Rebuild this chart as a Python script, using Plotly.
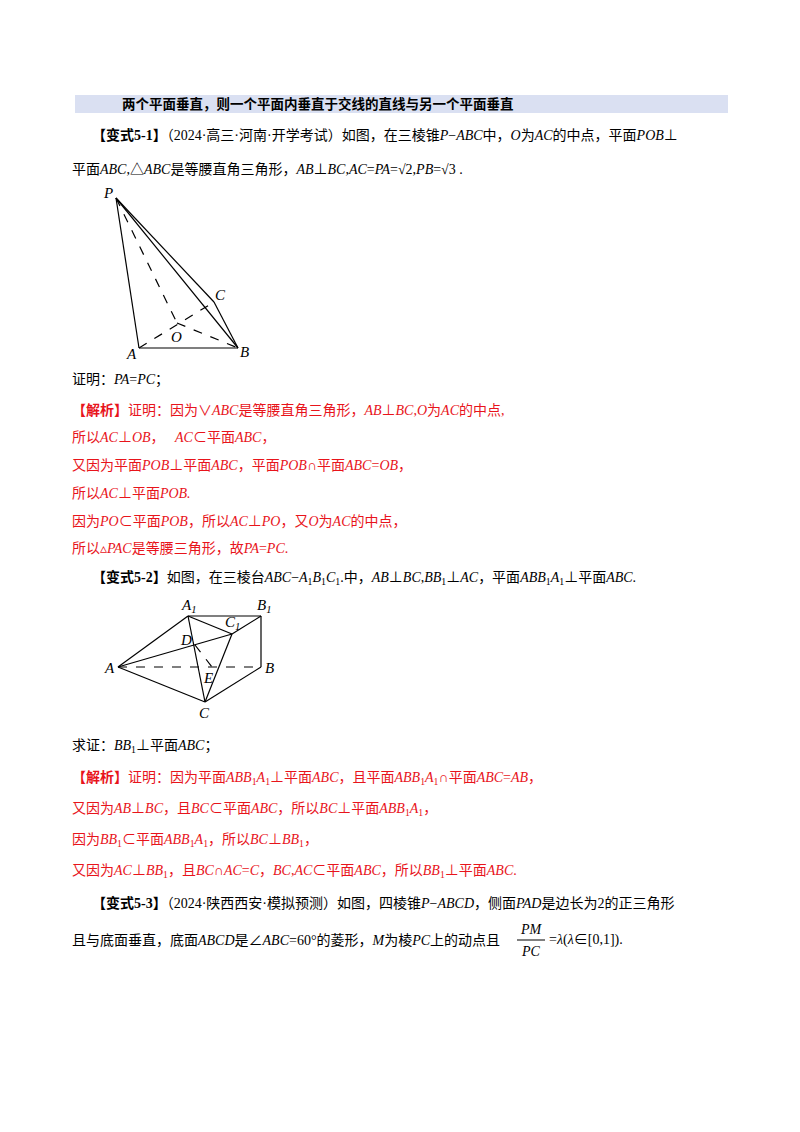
import plotly.graph_objects as go

# ---- data ----
fig1_pts = {"P": (116, 198), "A": (139, 348), "B": (238, 348), "C": (214, 302), "O": (177, 323)}
fig1_solid = [("P", "A"), ("P", "B"), ("P", "C"), ("A", "B"), ("C", "B")]
fig1_dash = [("P", "O"), ("A", "C"), ("O", "B")]
fig1_labels = {"P": (108, 193), "A": (131, 354), "B": (244, 352), "C": (220, 295), "O": (176, 337)}

fig2_pts = {"A1": (188, 616), "B1": (261, 616), "C1": (232, 634), "A": (118, 667), "B": (261, 667),
            "C": (205, 702), "D": (195, 645), "E": (212, 667)}
fig2_solid = [("A", "A1"), ("A1", "B1"), ("B1", "B"), ("B", "C"), ("A", "C"), ("A", "C1"),
              ("A1", "C"), ("A1", "C1"), ("C1", "B1"), ("C1", "C")]
fig2_dash = [("A", "B"), ("D", "E")]
fig2_labels = {"A1": (188, 606), "B1": (264, 606), "C1": (232, 623), "A": (109, 668), "B": (269, 668),
               "C": (204, 713), "D": (186, 640), "E": (208, 678)}
label_text = {"A1": "A<sub>1</sub>", "B1": "B<sub>1</sub>", "C1": "C<sub>1</sub>"}

header = "两个平面垂直，则一个平面内垂直于交线的直线与另一个平面垂直"
RED = "#e8141b"
text_lines = [
    (135, 90, "black", "<b>【变式5-1】</b>（2024·高三·河南·开学考试）如图，在三棱锥<i>P</i>−<i>ABC</i>中，<i>O</i>为<i>AC</i>的中点，平面<i>POB</i>⊥"),
    (169, 70, "black", "平面<i>ABC</i>,△<i>ABC</i>是等腰直角三角形，<i>AB</i>⊥<i>BC</i>,<i>AC</i>=<i>PA</i>=√2,<i>PB</i>=√3 ."),
    (380, 70, "black", "证明：<i>PA</i>=<i>PC</i>；"),
    (410, 70, RED, "<b>【解析】</b>证明：因为∨<i>ABC</i>是等腰直角三角形，<i>AB</i>⊥<i>BC</i>,<i>O</i>为<i>AC</i>的中点,"),
    (437, 70, RED, "所以<i>AC</i>⊥<i>OB</i>，   <i>AC</i>⊂平面<i>ABC</i>，"),
    (465, 70, RED, "又因为平面<i>POB</i>⊥平面<i>ABC</i>，平面<i>POB</i>∩平面<i>ABC</i>=<i>OB</i>，"),
    (493, 70, RED, "所以<i>AC</i>⊥平面<i>POB.</i>"),
    (521, 70, RED, "因为<i>PO</i>⊂平面<i>POB</i>，所以<i>AC</i>⊥<i>PO</i>，又<i>O</i>为<i>AC</i>的中点，"),
    (548, 70, RED, "所以▵<i>PAC</i>是等腰三角形，故<i>PA</i>=<i>PC</i>."),
    (578, 90, "black", "<b>【变式5-2】</b>如图，在三棱台<i>ABC</i>−<i>A</i><sub>1</sub><i>B</i><sub>1</sub><i>C</i><sub>1</sub>.中，<i>AB</i>⊥<i>BC</i>,<i>BB</i><sub>1</sub>⊥<i>AC</i>，平面<i>ABB</i><sub>1</sub><i>A</i><sub>1</sub>⊥平面<i>ABC</i>."),
    (746, 70, "black", "求证：<i>BB</i><sub>1</sub>⊥平面<i>ABC</i>；"),
    (778, 70, RED, "<b>【解析】</b>证明：因为平面<i>ABB</i><sub>1</sub><i>A</i><sub>1</sub>⊥平面<i>ABC</i>，且平面<i>ABB</i><sub>1</sub><i>A</i><sub>1</sub>∩平面<i>ABC</i>=<i>AB</i>，"),
    (809, 70, RED, "又因为<i>AB</i>⊥<i>BC</i>，且<i>BC</i>⊂平面<i>ABC</i>，所以<i>BC</i>⊥平面<i>ABB</i><sub>1</sub><i>A</i><sub>1</sub>，"),
    (840, 70, RED, "因为<i>BB</i><sub>1</sub>⊂平面<i>ABB</i><sub>1</sub><i>A</i><sub>1</sub>，所以<i>BC</i>⊥<i>BB</i><sub>1</sub>，"),
    (871, 70, RED, "又因为<i>AC</i>⊥<i>BB</i><sub>1</sub>，且<i>BC</i>∩<i>AC</i>=<i>C</i>，<i>BC</i>,<i>AC</i>⊂平面<i>ABC</i>，所以<i>BB</i><sub>1</sub>⊥平面<i>ABC</i>."),
    (903, 90, "black", "<b>【变式5-3】</b>（2024·陕西西安·模拟预测）如图，四棱锥<i>P</i>−<i>ABCD</i>，侧面<i>PAD</i>是边长为2的正三角形"),
    (940, 70, "black", "且与底面垂直，底面<i>ABCD</i>是∠<i>ABC</i>=60°的菱形，<i>M</i>为棱<i>PC</i>上的动点且"),
]

FONT = "Liberation Serif, Noto Sans CJK SC"
fig = go.Figure()

def add_segments(pts, segs, dash):
    xs, ys = [], []
    for a, b in segs:
        xs += [pts[a][0], pts[b][0], None]
        ys += [pts[a][1], pts[b][1], None]
    fig.add_trace(go.Scatter(x=xs, y=ys, mode="lines", hoverinfo="skip",
                             line=dict(color="black", width=1.2, dash=dash)))

add_segments(fig1_pts, fig1_solid, "solid")
add_segments(fig1_pts, fig1_dash, "dash")
add_segments(fig2_pts, fig2_solid, "solid")
add_segments(fig2_pts, fig2_dash, "dash")

for k, (x, y) in list(fig1_labels.items()) + list(fig2_labels.items()):
    fig.add_annotation(x=x, y=y, text="<i>%s</i>" % label_text.get(k, k), showarrow=False,
                       font=dict(family=FONT, size=15, color="black"))

fig.add_shape(type="rect", x0=75, x1=728, y0=95, y1=113, fillcolor="#dae0f2", line_width=0, layer="below")
fig.add_annotation(x=318, y=104, text="<b>%s</b>" % header, showarrow=False,
                   font=dict(family=FONT, size=13.5, color="black"))

for y, x, col, t in text_lines:
    fig.add_annotation(x=x, y=y, text=t, showarrow=False, xanchor="left",
                       font=dict(family=FONT, size=14, color=col))

# fraction PM/PC = λ(λ∈[0,1])
fig.add_annotation(x=531, y=929, text="<i>PM</i>", showarrow=False, font=dict(family=FONT, size=14, color="black"))
fig.add_annotation(x=531, y=951, text="<i>PC</i>", showarrow=False, font=dict(family=FONT, size=14, color="black"))
fig.add_shape(type="line", x0=517, x1=545, y0=940, y1=940, line=dict(color="black", width=1))
fig.add_annotation(x=547, y=940, text="=<i>λ</i>(<i>λ</i>∈[0,1]).", showarrow=False, xanchor="left",
                   font=dict(family=FONT, size=14, color="black"))

fig.update_layout(width=800, height=1132, margin=dict(l=0, r=0, t=0, b=0), showlegend=False,
                  plot_bgcolor="white", paper_bgcolor="white",
                  xaxis=dict(range=[8, 808], visible=False, fixedrange=True),
                  yaxis=dict(range=[1140, 8], visible=False, fixedrange=True))
fig.write_html("out.html")
